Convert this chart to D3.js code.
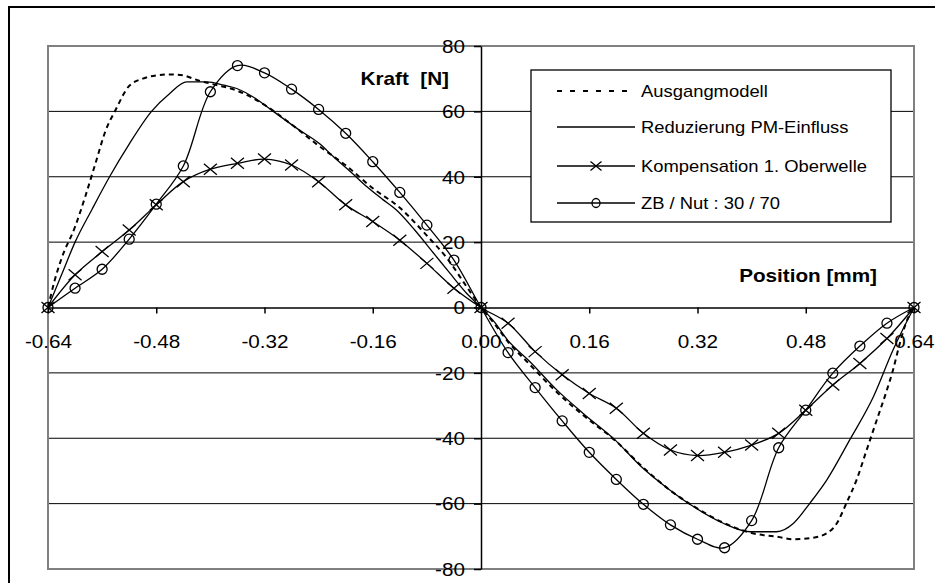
<!DOCTYPE html>
<html><head><meta charset="utf-8">
<script src="https://cdn.jsdelivr.net/npm/d3@7"></script>
<style>body{margin:0;background:#fff} svg text{font-family:"Liberation Sans",Arial,sans-serif;fill:#000}</style>
</head><body><svg id="c" width="935" height="583"></svg>
<script>
// ---- data ----
const xTicks = [-0.64, -0.48, -0.32, -0.16, 0.00, 0.16, 0.32, 0.48, 0.64];
const yTicks = [-80, -60, -40, -20, 0, 20, 40, 60, 80];
const gridValues = [-60, -40, -20, 20, 40, 60];
const seriesNames = ["Ausgangmodell", "Reduzierung PM-Einfluss", "Kompensation 1. Oberwelle", "ZB / Nut : 30 / 70"];

const markerX = [-0.64, -0.60, -0.56, -0.52, -0.48, -0.44, -0.40, -0.36, -0.32, -0.28, -0.24, -0.20, -0.16, -0.12, -0.08, -0.04,
  0.00, 0.04, 0.08, 0.12, 0.16, 0.20, 0.24, 0.28, 0.32, 0.36, 0.40, 0.44, 0.48, 0.52, 0.56, 0.60, 0.64];
const kompensation = [0, 10, 17.1, 23.7, 31.4, 38.5, 42.3, 44.1, 45.4, 43.6, 38.5, 31.4, 26.3, 20.6, 13.5, 5.9,
  0, -4.8, -13.5, -20.6, -26.3, -30.8, -38.5, -43.6, -45.3, -44.3, -42.1, -38.5, -31.4, -23.7, -17.1, -9.5, 0];
const zbNut = [0, 5.9, 11.7, 20.9, 31.6, 43.3, 66.0, 74.0, 71.8, 66.8, 60.6, 53.3, 44.6, 35.2, 25.2, 14.5,
  0, -13.8, -24.5, -34.7, -44.3, -52.6, -60.2, -66.5, -70.9, -73.5, -65.2, -42.9, -31.4, -20.1, -11.8, -4.8, 0];

const ausgangX = [-0.64, -0.63, -0.62, -0.60, -0.585, -0.57, -0.555, -0.54, -0.52, -0.50, -0.48, -0.46, -0.44, -0.42, -0.40, -0.36, -0.32, -0.28, -0.24, -0.20, -0.16, -0.12, -0.08, -0.05, -0.02, 0.00,
  0.02, 0.04, 0.07, 0.11, 0.15, 0.20, 0.24, 0.28, 0.32, 0.36, 0.40, 0.437, 0.462, 0.486, 0.511, 0.526, 0.540, 0.555, 0.570, 0.585, 0.600, 0.609, 0.619, 0.628, 0.64];
const ausgangY = [0, 8.4, 15, 24.7, 33.9, 44, 54, 60.5, 67.8, 70, 71, 71.3, 71, 69.6, 68.5, 66.3, 62, 56, 49.5, 43.5, 36.5, 30.5, 22, 15, 6, 0,
  -5, -10.5, -17, -25.5, -32.8, -41, -49, -56, -61.5, -66, -69, -70.1, -70.9, -70.6, -69.1, -66.0, -59.9, -52.8, -43.6, -34.4, -25.2, -19.1, -11.0, -4.8, 0];

const reduzX = [-0.64, -0.62, -0.60, -0.575, -0.549, -0.52, -0.487, -0.46, -0.435, -0.405, -0.38, -0.361, -0.33, -0.307, -0.27, -0.238, -0.218, -0.19, -0.169, -0.145, -0.125, -0.098, -0.07, -0.046, -0.021, 0.00,
  0.02, 0.039, 0.072, 0.112, 0.151, 0.198, 0.237, 0.279, 0.314, 0.358, 0.398, 0.437, 0.462, 0.486, 0.511, 0.545, 0.58, 0.609, 0.64];
const reduzY = [0, 10, 20, 30, 40, 50, 60, 65.5, 69, 69, 68, 67, 63.5, 60, 54.5, 50, 46.1, 41, 37, 33, 29.8, 23.7, 16.6, 10.5, 4.3, 0,
  -4.5, -9.9, -16.5, -25.2, -32.4, -40.5, -48.7, -55.8, -60.9, -66.0, -68.6, -68.6, -66.0, -59.9, -52.8, -40.5, -27.3, -13.0, 0];

// ---- chart ----
const svg = d3.select("#c");
const SX = 1.15; // horizontal text stretch
const x = d3.scaleLinear().domain([-0.64, 0.64]).range([48, 914]);
const y = d3.scaleLinear().domain([-80, 80]).range([569, 46]);
const hy = f => (d => f(d).replace("\u2212", "-"));

function label(g, px, py, str, size, anchor, bold) {
  return g.append("text")
    .attr("transform", `translate(${px},${py}) scale(${SX},1)`)
    .attr("text-anchor", anchor)
    .style("font-size", size + "px")
    .style("font-weight", bold ? "bold" : "normal")
    .text(str);
}

// outer frame
svg.append("rect").attr("x", 9).attr("y", 7).attr("width", 960).attr("height", 620)
  .attr("fill", "#fff").attr("stroke", "#000").attr("stroke-width", 2);

// gridlines
svg.append("g").selectAll("line").data(gridValues).join("line")
  .attr("x1", x(-0.64)).attr("x2", x(0.64))
  .attr("y1", d => y(d)).attr("y2", d => y(d))
  .attr("stroke", "#000").attr("stroke-width", 1);

// plot border
svg.append("rect").attr("x", x(-0.64)).attr("y", y(80))
  .attr("width", x(0.64) - x(-0.64)).attr("height", y(-80) - y(80))
  .attr("fill", "none").attr("stroke", "#808080").attr("stroke-width", 2);

// axes
const xAxis = svg.append("g").attr("transform", `translate(0,${y(0)})`)
  .call(d3.axisBottom(x).tickValues(xTicks).tickFormat(hy(d3.format(".2f"))).tickSize(6).tickSizeOuter(0));
xAxis.select(".domain").attr("stroke", "#000").attr("stroke-width", 1.5);
xAxis.selectAll(".tick line").attr("stroke", "#000").attr("stroke-width", 1.5);
xAxis.selectAll(".tick text").attr("y", 0).attr("dy", null)
  .attr("transform", `translate(0,40.5) scale(${SX},1)`)
  .style("font-size", "18px").attr("fill", "#000").attr("font-family", null);

const yAxis = svg.append("g").attr("transform", `translate(${x(0)},0)`)
  .call(d3.axisLeft(y).tickValues(yTicks).tickFormat(hy(d3.format("d"))).tickSize(7).tickSizeOuter(0));
yAxis.select(".domain").attr("stroke", "#000").attr("stroke-width", 1.5);
yAxis.selectAll(".tick line").attr("stroke", "#000").attr("stroke-width", 1.5);
yAxis.selectAll(".tick text").attr("x", 0).attr("dy", "0.35em")
  .attr("transform", `translate(-16,0) scale(${SX},1)`)
  .style("font-size", "18px").attr("fill", "#000").attr("font-family", null);

// axis titles
label(svg, 449, 85, "Kraft\u00a0\u00a0[N]", 18, "end", true);
label(svg, 877, 282, "Position [mm]", 18, "end", true);

// series
const g = svg.append("g");
const lineSmooth = d3.line().x(d => x(d[0])).y(d => y(d[1])).curve(d3.curveMonotoneX);
const lineMark = d3.line().x(d => x(d[0])).y(d => y(d[1])).curve(d3.curveCatmullRom.alpha(0.5));

g.append("path").datum(ausgangX.map((v, i) => [v, ausgangY[i]]))
  .attr("d", lineSmooth).attr("fill", "none").attr("stroke", "#000")
  .attr("stroke-width", 2).attr("stroke-dasharray", "5,4");
g.append("path").datum(reduzX.map((v, i) => [v, reduzY[i]]))
  .attr("d", lineSmooth).attr("fill", "none").attr("stroke", "#000").attr("stroke-width", 1.3);

const kData = markerX.map((v, i) => [v, kompensation[i]]);
const zData = markerX.map((v, i) => [v, zbNut[i]]);
g.append("path").datum(kData).attr("d", lineMark).attr("fill", "none").attr("stroke", "#000").attr("stroke-width", 1.3);
g.append("path").datum(zData).attr("d", lineMark).attr("fill", "none").attr("stroke", "#000").attr("stroke-width", 1.3);

function cross(sel, hw, hh) {
  sel.append("path").attr("d", `M${-hw},${-hh}L${hw},${hh}M${-hw},${hh}L${hw},${-hh}`)
    .attr("stroke", "#000").attr("stroke-width", 1.3).attr("fill", "none");
}
g.append("g").selectAll("g").data(kData).join("g")
  .attr("transform", d => `translate(${x(d[0])},${y(d[1])})`)
  .each(function () { cross(d3.select(this), 6.5, 5.5); });
g.append("g").selectAll("circle").data(zData).join("circle")
  .attr("cx", d => x(d[0])).attr("cy", d => y(d[1])).attr("r", 5)
  .attr("fill", "none").attr("stroke", "#000").attr("stroke-width", 1.3);

// legend
const lg = svg.append("g");
lg.append("rect").attr("x", 531).attr("y", 70).attr("width", 360).attr("height", 152)
  .attr("fill", "#fff").attr("stroke", "#000").attr("stroke-width", 1.3);
const rowY = [91, 127, 166, 203];
seriesNames.forEach((name, i) => {
  const ry = rowY[i];
  const ln = lg.append("line").attr("x1", 557).attr("x2", 635).attr("y1", ry).attr("y2", ry)
    .attr("stroke", "#000").attr("stroke-width", i === 0 ? 2 : 1.3);
  if (i === 0) ln.attr("stroke-dasharray", "5,8");
  if (i === 2) cross(lg.append("g").attr("transform", `translate(596,${ry})`), 5.5, 4.5);
  if (i === 3) lg.append("ellipse").attr("cx", 596).attr("cy", ry).attr("rx", 4).attr("ry", 4.5)
    .attr("fill", "none").attr("stroke", "#000").attr("stroke-width", 1.3);
  label(lg, 641, ry + 6, name, 16, "start", false);
});
</script></body></html>
